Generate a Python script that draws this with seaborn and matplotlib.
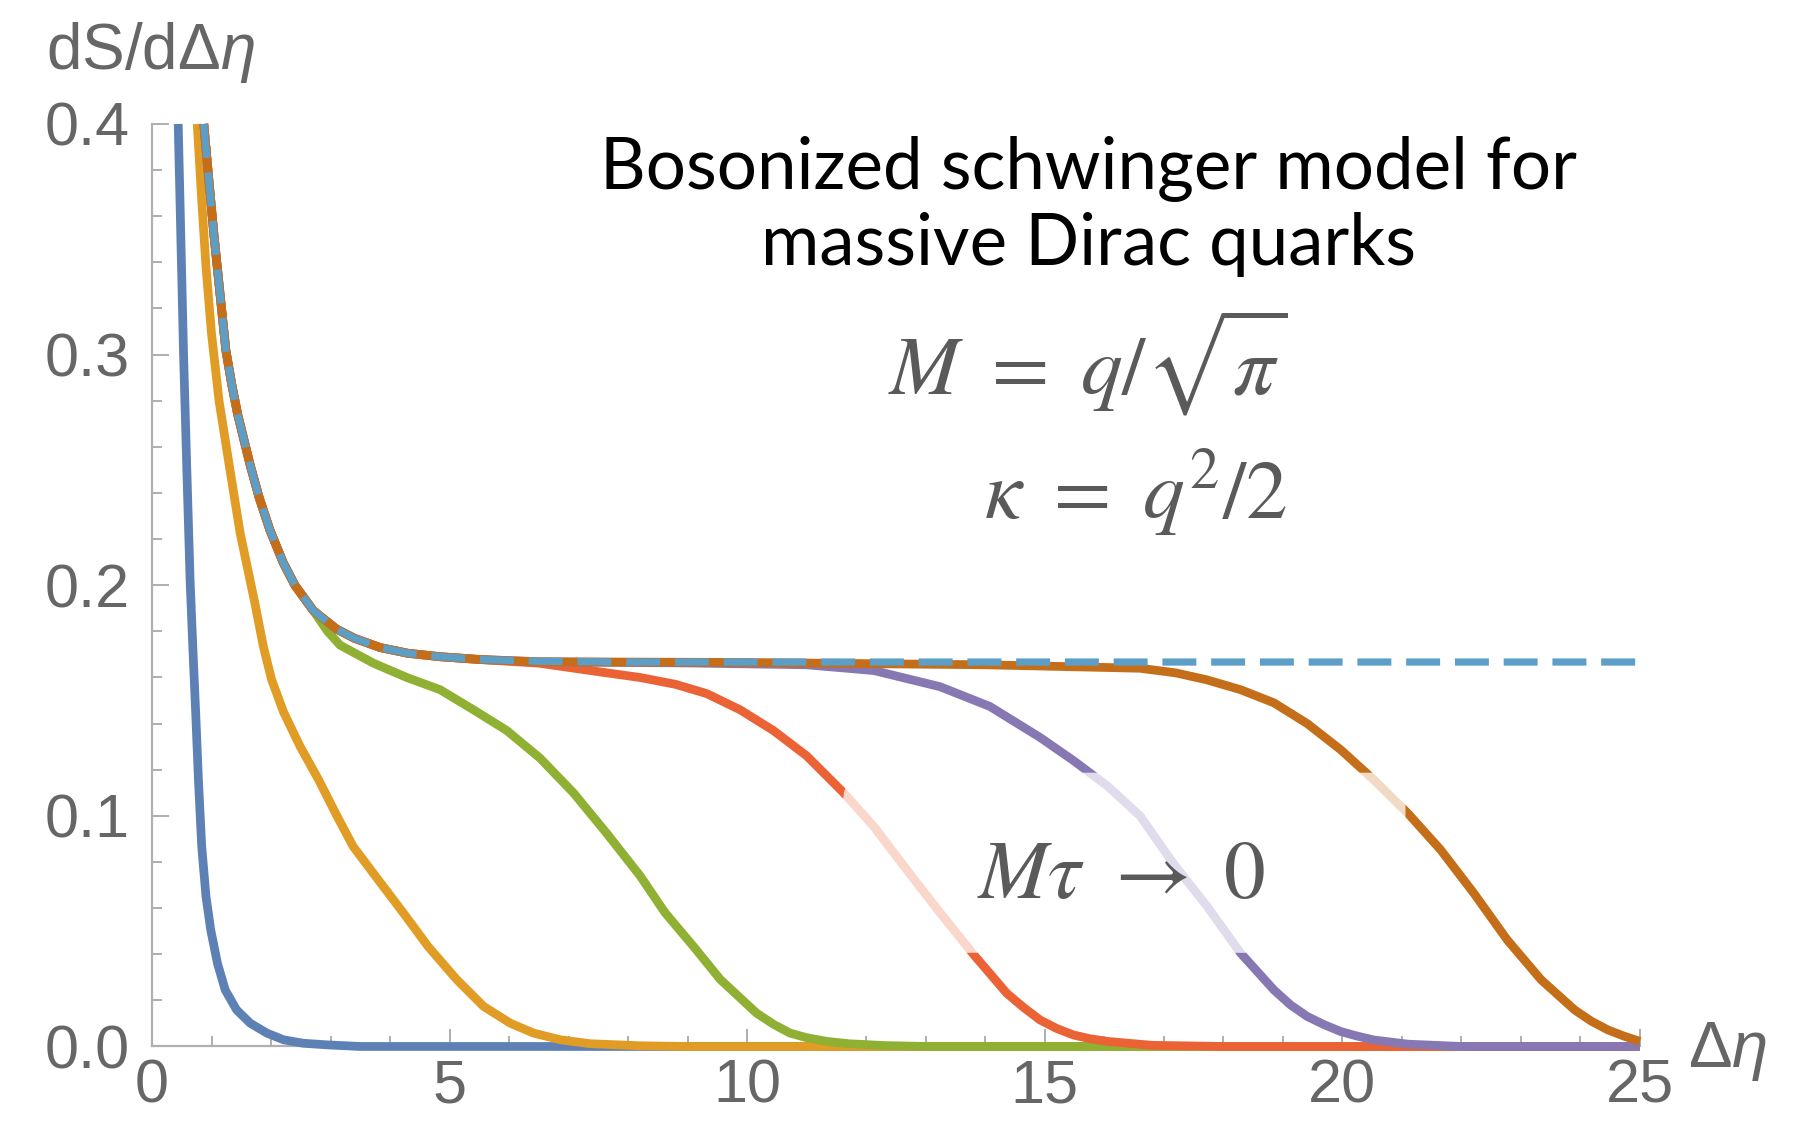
import matplotlib.pyplot as plt
import seaborn as sns
from matplotlib.patches import FancyBboxPatch

# values: x = delta eta, y = dS/d delta eta
# branch shared by the long-plateau curves (hidden under the dashed asymptote)
shared_x = [0.87, 0.95, 1.04, 1.12, 1.24, 1.34, 1.44, 1.65, 1.80, 1.98, 2.20,
            2.40, 2.71, 3.10, 3.40, 3.83, 4.30, 4.84, 5.50]
shared_y = [0.400, 0.377, 0.352, 0.332, 0.302, 0.287, 0.274, 0.252, 0.238,
            0.224, 0.210, 0.200, 0.189, 0.181, 0.177, 0.173, 0.1705, 0.169,
            0.1678]

asym_x = shared_x + [6.5, 8.0, 25.0]
asym_y = shared_y + [0.1670, 0.1667, 0.1667]

blue_x = [0.44, 0.485, 0.53, 0.585, 0.64, 0.685, 0.734, 0.78, 0.835, 0.907,
          0.986, 1.10, 1.23, 1.42, 1.65, 1.93, 2.21, 2.54, 2.94, 3.5, 25.0]
blue_y = [0.400, 0.350, 0.300, 0.250, 0.202, 0.1735, 0.1445, 0.1156, 0.0867,
          0.065, 0.0506, 0.036, 0.0245, 0.0159, 0.0101, 0.0058, 0.0029,
          0.0014, 0.0007, 0.0, 0.0]

orange_x = [0.76, 0.835, 0.907, 1.00, 1.126, 1.30, 1.48, 1.73, 1.87, 2.01,
            2.21, 2.49, 2.80, 3.10, 3.38, 3.80, 4.22, 4.64, 5.12, 5.57, 6.02,
            6.41, 6.86, 7.36, 8.2, 9.0, 25.0]
orange_y = [0.400, 0.367, 0.338, 0.309, 0.280, 0.2516, 0.2227, 0.192, 0.1735,
            0.159, 0.145, 0.130, 0.1156, 0.1003, 0.0867, 0.0723, 0.058,
            0.0433, 0.029, 0.0174, 0.0101, 0.0058, 0.0029, 0.0012, 0.0003,
            0.0, 0.0]

green_x = shared_x[:13] + [2.95, 3.16, 3.72, 4.28, 4.84, 5.40, 5.96, 6.52,
                           7.08, 7.64, 8.20, 8.62, 9.10, 9.55, 10.16, 10.45,
                           10.72, 11.0, 11.34, 11.7, 12.3, 13.0, 25.0]
green_y = shared_y[:13] + [0.180, 0.174, 0.1662, 0.160, 0.1547, 0.146, 0.137,
                           0.125, 0.110, 0.0924, 0.074, 0.058, 0.0433, 0.029,
                           0.0144, 0.0095, 0.0058, 0.0038, 0.0022, 0.0012,
                           0.0004, 0.0, 0.0]

red_x = shared_x + [6.5, 7.64, 8.2, 8.8, 9.32, 9.88, 10.44, 11.0, 11.62,
                    12.13, 12.68, 13.24, 13.8, 14.36, 14.64, 14.92, 15.2,
                    15.48, 15.75, 16.05, 16.8, 18.0, 25.0]
red_y = shared_y + [0.1662, 0.162, 0.160, 0.157, 0.153, 0.146, 0.137, 0.126,
                    0.110, 0.0953, 0.0766, 0.058, 0.040, 0.0231, 0.017,
                    0.0115, 0.0078, 0.005, 0.0034, 0.0022, 0.0005, 0.0, 0.0]

purple_x = shared_x + [6.5, 9.0, 11.0, 12.13, 13.24, 14.08, 14.92, 15.48,
                       16.05, 16.6, 17.17, 17.72, 18.29, 18.85, 19.13, 19.41,
                       19.69, 19.97, 20.25, 20.53, 21.1, 22.0, 25.0]
purple_y = shared_y + [0.1668, 0.1663, 0.1655, 0.163, 0.156, 0.1474, 0.134,
                       0.124, 0.113, 0.100, 0.079, 0.061, 0.0405, 0.0245,
                       0.018, 0.013, 0.0095, 0.0065, 0.0045, 0.0028, 0.001,
                       0.0, 0.0]

brown_x = shared_x + [6.5, 10.0, 14.0, 16.6, 17.2, 17.72, 18.29, 18.85,
                      19.41, 19.97, 20.53, 21.1, 21.65, 22.21, 22.77, 23.34,
                      23.9, 24.18, 24.46, 24.73, 25.0]
brown_y = shared_y + [0.1668, 0.1665, 0.1655, 0.164, 0.162, 0.159, 0.1547,
                      0.149, 0.140, 0.1287, 0.1156, 0.1011, 0.0853, 0.0664,
                      0.0462, 0.0289, 0.0159, 0.011, 0.0072, 0.0045, 0.0022]

curves = [
    (blue_x, blue_y, '#5E81B5'),
    (orange_x, orange_y, '#E09C24'),
    (green_x, green_y, '#8FB032'),
    (red_x, red_y, '#EB6235'),
    (purple_x, purple_y, '#8778B3'),
    (brown_x, brown_y, '#C56E1A'),
]

sns.set_style('ticks')
plt.rcParams['font.family'] = ['Liberation Sans', 'DejaVu Sans']
plt.rcParams['mathtext.fontset'] = 'custom'
plt.rcParams['mathtext.rm'] = 'Liberation Sans'
plt.rcParams['mathtext.it'] = 'Liberation Sans:italic'

fig = plt.figure(figsize=(17.99, 11.25), dpi=100)
ax = fig.add_axes([0.0845, 0.0698, 0.8271, 0.8200])

for xs, ys, col in curves:
    sns.lineplot(x=xs, y=ys, color=col, lw=6.3, ax=ax, sort=False,
                 estimator=None, clip_on=False, solid_capstyle='butt',
                 solid_joinstyle='round', zorder=3)

sns.lineplot(x=asym_x, y=asym_y, color='#5D9EC7', lw=5.2, ax=ax, sort=False,
             estimator=None, clip_on=False, linestyle=(0, (4.7, 2.05)),
             zorder=4)

# translucent box behind the "M tau -> 0" label
box = FancyBboxPatch((11.61, 0.0406), 9.45, 0.0781,
                     boxstyle='round,pad=0,rounding_size=0.5',
                     mutation_aspect=0.0258, fc='white', ec='none',
                     alpha=0.75, zorder=5)
ax.add_patch(box)

ax.set_xlim(0, 25)
ax.set_ylim(0, 0.4)
ax.set_xticks([0, 5, 10, 15, 20, 25])
ax.set_xticks(range(0, 26), minor=True)
ax.set_yticks([0.0, 0.1, 0.2, 0.3, 0.4])
ax.set_yticklabels(['0.0', '0.1', '0.2', '0.3', '0.4'])
ax.set_yticks([i * 0.02 for i in range(21)], minor=True)

sns.despine(ax=ax)
for side in ['left', 'bottom']:
    ax.spines[side].set_color('#b0b0b0')
    ax.spines[side].set_linewidth(1.6)
ax.tick_params(which='both', direction='in', color='#a8a8a8', width=1.3,
               labelsize=44, labelcolor='#666666')
ax.tick_params(which='major', length=12)
ax.tick_params(which='minor', length=7)
ax.tick_params(axis='x', pad=9)
ax.tick_params(axis='y', pad=16)
ax.set_xlabel('')
ax.set_ylabel('')

fig.text(46 / 1799, 1 - 69 / 1125, r'dS/d$\Delta\eta$', fontsize=46,
         color='#666666', ha='left', va='baseline', math_fontfamily='custom')
fig.text(1688 / 1799, 1 - 1067 / 1125, r'$\Delta\eta$', fontsize=47,
         color='#666666', ha='left', va='baseline', math_fontfamily='custom')

fig.text(0.6048, 0.832, 'Bosonized schwinger model for', family='Lato',
         fontsize=51, color='black', ha='center', va='baseline')
fig.text(0.6048, 0.7644, 'massive Dirac quarks', family='Lato',
         fontsize=51, color='black', ha='center', va='baseline')

fig.text(0.7154, 0.6498, r'$M\ =\ q/\sqrt{\pi}$', fontsize=60,
         color='#5a5a5a', ha='right', va='baseline', math_fontfamily='stix')
fig.text(0.7154, 0.5387, r'$\kappa\ =\ q^2/2$', fontsize=60,
         color='#5a5a5a', ha='right', va='baseline', math_fontfamily='stix')
fig.text(0.6231, 0.2018, r'$M\tau\ \rightarrow\ 0$', fontsize=60,
         color='#5a5a5a', ha='center', va='baseline', math_fontfamily='stix')

fig.savefig('out.png', dpi=100)
